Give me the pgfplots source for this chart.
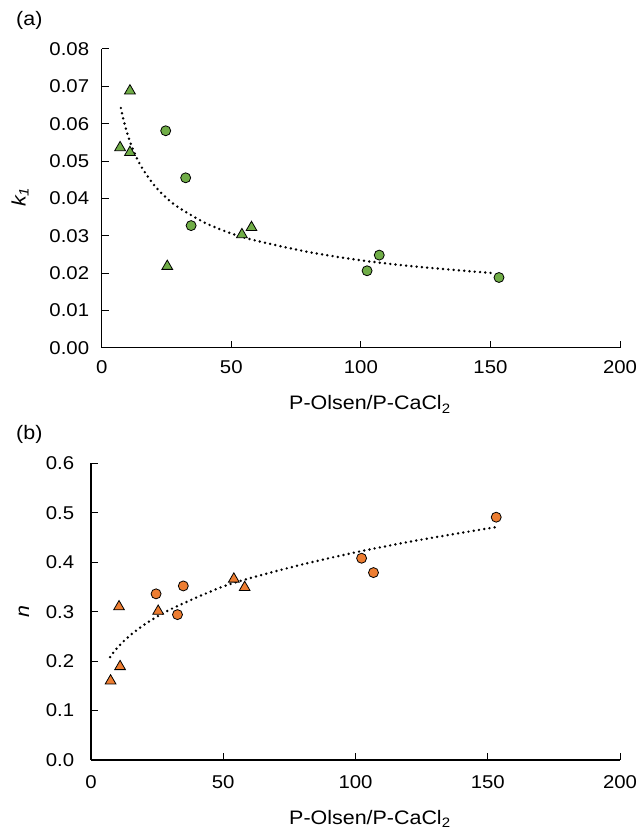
\documentclass[border=0pt]{standalone}
\usepackage{fontspec}
\setmainfont[FakeStretch=1.1]{Liberation Sans}
\usepackage{pgfplots}
\pgfplotsset{compat=1.18}
\definecolor{pgreen}{RGB}{112,173,71}
\definecolor{porange}{RGB}{237,125,49}
\newcommand{\tickfont}{\fontsize{18.5}{22}\selectfont}
\newcommand{\labfont}{\fontsize{19.5}{23}\selectfont}
\pgfplotsset{
  panel/.style={
    scale only axis, clip=false,
    axis lines=left, axis line style={-, line width=1.2pt},
    tick align=inside, major tick length=7pt,
    tick style={line width=1pt, black},
    xmin=0, xmax=200, xtick={0,50,...,200},
    tick label style={font=\tickfont, inner sep=0pt},
    /pgf/number format/assume math mode=true,
    scaled y ticks=false, scaled x ticks=false,
    xticklabel style={anchor=base},
  },
  trend/.style={black, line width=2.7pt, line cap=round, dash pattern=on 0pt off 5.3pt, mark=none, smooth},
  circ/.style={only marks, mark=*, mark size=5pt, mark options={fill=#1, draw=black, line width=0.8pt}},
  tri/.style={only marks, mark=triangle*, mark size=6.2pt, mark options={fill=#1, draw=black, line width=0.8pt}},
}
\begin{document}
\begin{tikzpicture}
\useasboundingbox (0,0) rectangle (643pt,834pt);

% (a) k1
\begin{axis}[panel, at={(101.7pt,486.3pt)}, anchor=origin,
  width=518.3pt, height=298.7pt,
  ymin=0, ymax=0.08, ytick={0,0.01,...,0.08},
  yticklabel style={anchor=east, xshift=-12.4pt,
    /pgf/number format/fixed, /pgf/number format/fixed zerofill, /pgf/number format/precision=2},
  xticklabel style={yshift=-26.3pt}]
\addplot[trend] coordinates {(7.4,0.0642)(8.5,0.0608)(10,0.0571)(12,0.0532)(15,0.0488)(20,0.0437)(25,0.0401)(30,0.0374)(40,0.0334)(50,0.0306)(60,0.0286)(80,0.0256)(100,0.0234)(120,0.0218)(140,0.0206)(152,0.0199)};
\addplot[tri=pgreen] coordinates {(7.1,0.0536)(10.9,0.0688)(10.9,0.0523)(25.3,0.0218)(54.1,0.0303)(57.8,0.0322)};
\addplot[circ=pgreen] coordinates {(24.7,0.0581)(32.4,0.0455)(34.5,0.0327)(102.4,0.0206)(107.1,0.0248)(153.3,0.0188)};
\end{axis}

% (b) n
\begin{axis}[panel, at={(91pt,74pt)}, anchor=origin,
  width=529pt, height=296.7pt,
  ymin=0, ymax=0.6, ytick={0,0.1,...,0.6},
  yticklabel style={anchor=east, xshift=-16.7pt,
    /pgf/number format/fixed, /pgf/number format/fixed zerofill, /pgf/number format/precision=1},
  xticklabel style={yshift=-28.3pt}]
\addplot[trend] coordinates {(7.2,0.208)(8.5,0.2174)(10,0.2271)(12,0.2384)(15,0.2530)(20,0.2732)(25,0.2900)(30,0.3045)(40,0.3288)(50,0.3510)(60,0.3675)(80,0.3956)(100,0.4199)(120,0.4409)(140,0.4594)(153.2,0.4710)};
\addplot[tri=porange] coordinates {(7.4,0.160)(11.0,0.189)(10.6,0.310)(25.4,0.301)(54.0,0.366)(58.1,0.349)};
\addplot[circ=porange] coordinates {(24.6,0.336)(34.9,0.352)(32.7,0.294)(102.3,0.408)(106.8,0.379)(153.2,0.491)};
\end{axis}

% labels
\node[font=\labfont, anchor=base west, inner sep=0pt] at (16pt,808.5pt) {(a)};
\node[font=\labfont, anchor=base west, inner sep=0pt] at (16pt,394.5pt) {(b)};
\node[font=\labfont, anchor=base west, inner sep=0pt] at (289pt,424pt) {P-Olsen/P-CaCl\textsubscript{2}};
\node[font=\labfont, anchor=base west, inner sep=0pt] at (289pt,9.7pt) {P-Olsen/P-CaCl\textsubscript{2}};
\node[font=\labfont, rotate=90, inner sep=0pt] at (20pt,637pt) {\itshape k\textsubscript{1}};
\node[font=\labfont, rotate=90, inner sep=0pt] at (24pt,222.3pt) {\itshape n};
\end{tikzpicture}
\end{document}
